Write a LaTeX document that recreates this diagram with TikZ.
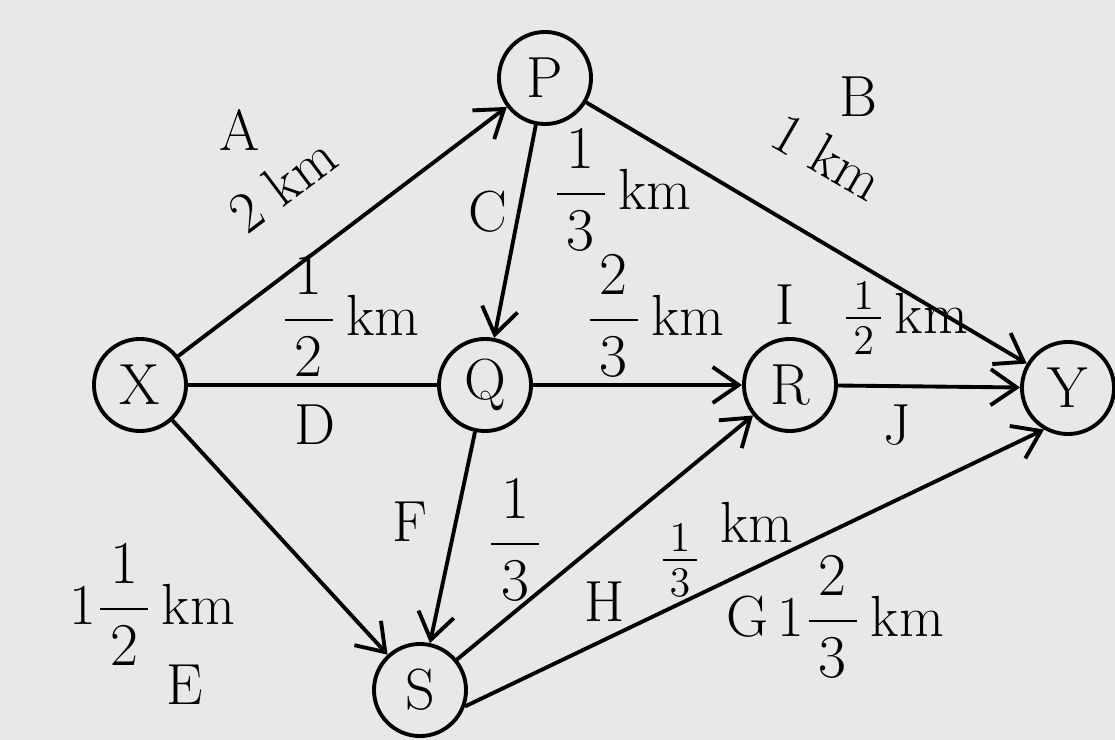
\documentclass[tikz,border=0pt]{standalone}
\usepackage{amsmath}
\usetikzlibrary{arrows.meta,positioning}
\definecolor{paper}{RGB}{232,232,230}
\newcommand{\kmfrac}[2]{\dfrac{\,#1\,}{\,#2\,}}

\begin{document}
\begin{tikzpicture}[x=0.01cm,y=-0.01cm,
        font=\fontsize{16.5}{19}\selectfont,
        stn/.style={circle,draw,line width=1.1pt,minimum size=0.92cm,inner sep=0pt},
        arc/.style={line width=1.1pt,-{Straight Barb[length=2.6mm,width=3.6mm]}},
        lnk/.style={line width=1.1pt},
        lbl/.style={inner sep=1pt}]
        %Paper
        \fill[paper] (0,0) rectangle (1115,740);
        \useasboundingbox (0,0) rectangle (1115,740);
        %Nodes
        \node[stn] (X) at (140,385) {X};
        \node[stn] (P) at (545,78) {P};
        \node[stn] (Q) at (485,385) {Q};
        \node[stn] (R) at (790,385) {R};
        \node[stn] (Y) at (1068,388) {Y};
        \node[stn] (S) at (420,690) {S};
        %Edges
        \draw[arc] (X) -- (P);
        \draw[arc] (P) -- (Y);
        \draw[arc] (P) -- (Q);
        \draw[lnk] (X) -- (Q);
        \draw[arc] (Q) -- (R);
        \draw[arc] (R) -- (Y);
        \draw[arc] (X) -- (S);
        \draw[arc] (Q) -- (S);
        \draw[arc] (S) -- (R);
        \draw[arc] (S.-20) -- (Y.-120);
        %Labels
        \node[lbl] (lA) at (240,130) {A};
        \node[lbl,rotate=37] (lAd) at (282,184) {2 km};
        \node[lbl] (lB) at (858,97) {B};
        \node[lbl,rotate=-30] (lBd) at (828,156) {1 km};
        \node[lbl] (lC) at (488,212) {C};
        \node[lbl] (lCd) at (622,190) {$\kmfrac{1}{3}$\,km};
        \node[lbl] (lDd) at (350,316) {$\kmfrac{1}{2}$\,km};
        \node[lbl] (lD) at (315,425) {D};
        \node[lbl] (lQR) at (655,316) {$\kmfrac{2}{3}$\,km};
        \node[lbl] (lI) at (785,305) {I};
        \node[lbl] (lRY) at (905,318) {$\frac{\,1\,}{\,2\,}$\,km};
        \node[lbl] (lJ) at (897,425) {J};
        \node[lbl] (lEd) at (152,605) {1$\kmfrac{1}{2}$\,km};
        \node[lbl] (lE) at (185,685) {E};
        \node[lbl] (lF) at (410,522) {F};
        \node[lbl] (lFd) at (515,540) {$\kmfrac{1}{3}$};
        \node[lbl] (lH) at (605,602) {H};
        \node[lbl] (lHd) at (680,560) {$\frac{\,1\,}{\,3\,}$};
        \node[lbl] (lHk) at (757,522) {km};
        \node[lbl] (lGd) at (835,617) {G\,1$\kmfrac{2}{3}$\,km};
\end{tikzpicture}
\end{document}
